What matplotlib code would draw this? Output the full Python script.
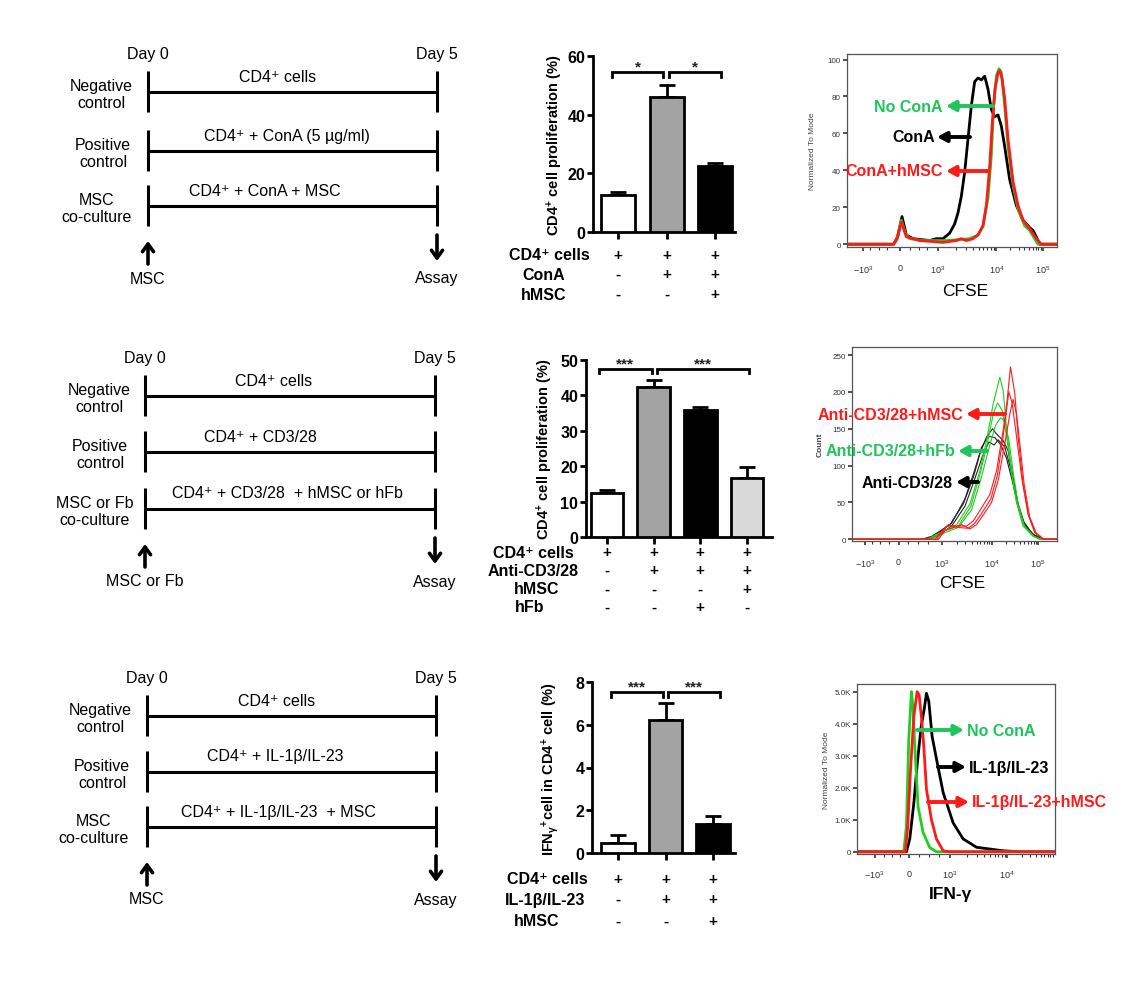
import matplotlib
matplotlib.use('Agg')
import matplotlib.pyplot as plt
from matplotlib.transforms import blended_transform_factory
import numpy as np

W, H = 1148, 987
plt.rcParams['font.family'] = ['Liberation Sans', 'DejaVu Sans']
plt.rcParams['mathtext.fontset'] = 'custom'
plt.rcParams['mathtext.rm'] = 'Liberation Sans'
plt.rcParams['mathtext.it'] = 'Liberation Sans:italic'
plt.rcParams['mathtext.bf'] = 'Liberation Sans:bold'
plt.rcParams['mathtext.default'] = 'regular'

# ------------------------------------------------------------------ data
# bar chart 1 (ConA)
bar1_vals = [12.5, 46.0, 22.5]
bar1_err = [1.0, 4.0, 1.0]
bar1_colors = ['white', '#a3a3a3', 'black']
bar1_rows = ['CD4⁺ cells', 'ConA', 'hMSC']
bar1_signs = [['+', '+', '+'], ['-', '+', '+'], ['-', '-', '+']]
bar1_stars = ['*', '*']

# bar chart 2 (anti-CD3/28)
bar2_vals = [12.5, 42.5, 36.0, 16.8]
bar2_err = [0.8, 1.8, 0.8, 3.0]
bar2_colors = ['white', '#a3a3a3', 'black', '#d9d9d9']
bar2_rows = ['CD4⁺ cells', 'Anti-CD3/28', 'hMSC', 'hFb']
bar2_signs = [['+', '+', '+', '+'], ['-', '+', '+', '+'],
              ['-', '-', '-', '+'], ['-', '-', '+', '-']]
bar2_stars = ['***', '***']

# bar chart 3 (IL-1b/IL-23)
bar3_vals = [0.45, 6.2, 1.38]
bar3_err = [0.37, 0.8, 0.37]
bar3_colors = ['white', '#a3a3a3', 'black']
bar3_rows = ['CD4⁺ cells', 'IL-1β/IL-23', 'hMSC']
bar3_signs = [['+', '+', '+'], ['-', '+', '+'], ['-', '-', '+']]
bar3_stars = ['***', '***']

# flow histogram 1: (channel, % of mode)
h1_noconA = [(0, 0), (140, 0), (150, 3), (163, 13), (175, 6), (188, 3), (230, 2), (300, 2),
             (368, 3), (393, 5), (408, 10), (423, 25), (433, 48), (440, 75), (448, 91),
             (456, 95), (463, 93), (473, 75), (483, 53), (498, 32), (513, 19), (533, 10),
             (548, 7.5), (563, 3), (573, 0), (630, 0)]
h1_conA = [(0, 0), (140, 0), (152, 4), (165, 15), (178, 5), (198, 3), (248, 2), (268, 3),
           (288, 3), (308, 6), (323, 11), (333, 17), (343, 26), (353, 39), (363, 57),
           (373, 75), (383, 88), (393, 90), (403, 89), (413, 91), (423, 84), (433, 73),
           (443, 69), (453, 70), (463, 64), (473, 53), (488, 35), (508, 21), (528, 13),
           (548, 9), (558, 7.5), (568, 4), (578, 0), (630, 0)]
h1_conA_msc = [(0, 0), (140, 0), (150, 3), (163, 12), (178, 4), (218, 2), (288, 1), (328, 2),
               (343, 3), (358, 2), (378, 3), (393, 5), (408, 10), (418, 21), (428, 42),
               (436, 66), (444, 84), (453, 93), (458, 94), (465, 90), (473, 79), (483, 57),
               (498, 34), (513, 21), (528, 13), (548, 8.5), (568, 3), (583, 0), (630, 0)]
h1_xticklabels = [r'$-10^3$', '0', r'$10^3$', r'$10^4$', r'$10^5$']
h1_yticks = [0, 20, 40, 60, 80, 100]

# flow histogram 2: (channel, count), three replicates each
h2_black = [
    [(0, 0), (210, 0), (240, 4), (295, 20), (335, 48), (365, 84), (385, 116), (405, 139),
     (423, 150), (435, 143), (455, 134), (470, 120), (485, 84), (500, 48), (520, 20),
     (545, 7), (575, 0), (617, 0)],
    [(0, 0), (215, 0), (250, 5), (300, 22), (340, 55), (370, 95), (390, 125), (410, 140),
     (430, 138), (448, 128), (465, 110), (482, 80), (500, 45), (520, 18), (550, 5),
     (580, 0), (617, 0)],
    [(0, 0), (220, 0), (255, 4), (300, 18), (340, 45), (368, 80), (392, 112), (412, 132),
     (428, 128), (440, 135), (460, 125), (478, 95), (495, 55), (515, 25), (545, 6),
     (578, 0), (617, 0)]]
h2_green = [
    [(0, 0), (225, 0), (275, 11), (315, 20), (355, 48), (385, 93), (405, 134), (425, 184),
     (445, 220), (455, 202), (465, 152), (480, 93), (495, 52), (515, 20), (545, 5),
     (565, 0), (617, 0)],
    [(0, 0), (230, 0), (280, 12), (320, 18), (358, 45), (385, 88), (405, 125), (425, 170),
     (438, 185), (452, 175), (465, 140), (480, 90), (495, 50), (515, 18), (545, 4),
     (565, 0), (617, 0)],
    [(0, 0), (235, 0), (285, 10), (320, 16), (360, 40), (390, 85), (410, 120), (432, 155),
     (448, 165), (460, 160), (472, 135), (486, 88), (500, 48), (520, 17), (548, 4),
     (570, 0), (617, 0)]]
h2_red = [
    [(0, 0), (250, 0), (265, 8), (285, 18), (315, 18), (345, 18), (365, 25), (385, 39),
     (415, 61), (435, 93), (455, 148), (467, 189), (477, 234), (490, 198), (500, 139),
     (515, 75), (530, 34), (550, 9), (575, 0), (617, 0)],
    [(0, 0), (255, 0), (272, 10), (290, 20), (320, 16), (350, 15), (370, 22), (390, 35),
     (418, 55), (438, 88), (455, 140), (465, 175), (472, 200), (482, 185), (495, 140),
     (512, 80), (530, 35), (550, 10), (575, 0), (617, 0)],
    [(0, 0), (260, 0), (280, 12), (300, 15), (330, 20), (355, 14), (375, 20), (395, 33),
     (420, 50), (440, 80), (460, 130), (475, 170), (485, 190), (495, 170), (505, 130),
     (518, 75), (535, 30), (555, 8), (578, 0), (617, 0)]]
h2_xticklabels = [r'$-10^3$', '0', r'$10^3$', r'$10^4$', r'$10^5$']
h2_yticks = [0, 50, 100, 150, 200, 250]

# flow histogram 3: (channel, normalized count)
h3_noconA = [(0, 0), (140, 0), (148, 800), (155, 3500), (163, 5000), (168, 4500),
             (173, 3300), (183, 1400), (198, 600), (218, 130), (238, 0), (593, 0)]
h3_il = [(0, 0), (148, 0), (158, 400), (170, 1500), (180, 2700), (192, 3900), (202, 4500),
         (208, 4950), (215, 4700), (225, 3600), (238, 2900), (258, 1850), (288, 900),
         (318, 400), (358, 140), (438, 30), (488, 0), (593, 0)]
h3_il_msc = [(0, 0), (145, 0), (152, 800), (160, 2500), (170, 4200), (180, 5000),
             (186, 4900), (193, 4200), (200, 3300), (208, 1950), (223, 1000), (238, 400),
             (258, 30), (275, 0), (593, 0)]
h3_xticklabels = [r'$-10^3$', '0', r'$10^3$', r'$10^4$']
h3_yticks = [0, 1000, 2000, 3000, 4000, 5000]
h3_yticklabels = ['0', '1.0K', '2.0K', '3.0K', '4.0K', '5.0K']

GREEN_LINE = '#22cc22'
GREEN_TEXT = '#1fc45a'
RED = '#ff1a1a'

# ------------------------------------------------------------------ figure
fig = plt.figure(figsize=(W / 100, H / 100), dpi=100)
ov = fig.add_axes([0, 0, 1, 1], zorder=10)
ov.set_xlim(0, W)
ov.set_ylim(H, 0)
ov.axis('off')


def px_axes(l, t, r, b):
    return fig.add_axes([l / W, 1 - b / H, (r - l) / W, (b - t) / H])


# ------------------------------------------------------------------ timelines
TL_FS = 11.5


def timeline(rows_y, xl, xr, line_texts, text_xs, row_labels, row_xs, start_label):
    ov.text(xl, rows_y[0] - 38, 'Day 0', ha='center', va='center', fontsize=TL_FS)
    ov.text(xr, rows_y[0] - 38, 'Day 5', ha='center', va='center', fontsize=TL_FS)
    for y, t, tx, rl, rx in zip(rows_y, line_texts, text_xs, row_labels, row_xs):
        for x in (xl, xr):
            ov.plot([x, x], [y - 21, y + 20], color='black', lw=2.2, solid_capstyle='butt')
        ov.plot([xl, xr], [y, y], color='black', lw=2.2, solid_capstyle='butt')
        ov.text(tx, y - 16, t, ha='center', va='center', fontsize=TL_FS)
        ov.text(rx, y + 2, rl, ha='center', va='center', fontsize=TL_FS, linespacing=1.2)
    yl = rows_y[-1]
    ov.annotate('', xy=(xl, yl + 35), xytext=(xl, yl + 58),
                arrowprops=dict(arrowstyle='->,head_length=0.55,head_width=0.4', lw=2.6,
                                color='black', shrinkA=0, shrinkB=0))
    ov.annotate('', xy=(xr, yl + 55), xytext=(xr, yl + 29),
                arrowprops=dict(arrowstyle='->,head_length=0.55,head_width=0.4', lw=2.6,
                                color='black', shrinkA=0, shrinkB=0))
    ov.text(xl, yl + 72, start_label, ha='center', va='center', fontsize=TL_FS)
    ov.text(xr, yl + 72, 'Assay', ha='center', va='center', fontsize=TL_FS)


timeline([93, 152, 207], 148, 437,
         ['CD4⁺ cells', 'CD4⁺ + ConA (5 µg/ml)', 'CD4⁺ + ConA + MSC'],
         [278, 287, 265],
         ['Negative\ncontrol', 'Positive\ncontrol', 'MSC\nco-culture'],
         [101, 103, 97], 'MSC')
timeline([397, 453, 510], 145, 435,
         ['CD4⁺ cells', 'CD4⁺ + CD3/28', 'CD4⁺ + CD3/28  + hMSC or hFb'],
         [274, 260, 287],
         ['Negative\ncontrol', 'Positive\ncontrol', 'MSC or Fb\nco-culture'],
         [99, 100, 95], 'MSC or Fb')
timeline([717, 773, 828], 147, 436,
         ['CD4⁺ cells', 'CD4⁺ + IL-1β/IL-23', 'CD4⁺ + IL-1β/IL-23  + MSC'],
         [277, 275, 278],
         ['Negative\ncontrol', 'Positive\ncontrol', 'MSC\nco-culture'],
         [100, 102, 94], 'MSC')


# ------------------------------------------------------------------ bar charts
def bar_panel(box, xlim, ylim, yticks, vals, errs, colors, ylabel, ylabel_x,
              brackets, stars, rows, row_xs, row_ys, signs):
    ax = px_axes(*box)
    n = len(vals)
    x = np.arange(n)
    ax.errorbar(x, vals, yerr=[np.zeros(n), errs], fmt='none', ecolor='black',
                elinewidth=2, capsize=6, capthick=2, zorder=2, clip_on=False)
    ax.bar(x, vals, width=0.7, color=colors, edgecolor='black', linewidth=2, zorder=3)
    ax.set_xlim(*xlim)
    ax.set_ylim(*ylim)
    ax.set_yticks(yticks)
    ax.set_xticks(x)
    ax.set_xticklabels([''] * n)
    for s in ('top', 'right'):
        ax.spines[s].set_visible(False)
    for s in ('left', 'bottom'):
        ax.spines[s].set_linewidth(2)
    ax.tick_params(axis='y', direction='out', length=4.5, width=2, labelsize=11.5, pad=1)
    ax.tick_params(axis='x', direction='out', length=5, width=2)
    for lab in ax.get_yticklabels():
        lab.set_fontweight('bold')
    ax.patch.set_alpha(0)
    # significance brackets
    for (x0, x1, ytop, ydrop), st in zip(brackets, stars):
        ax.plot([x0, x0, x1, x1], [ydrop, ytop, ytop, ydrop], color='black', lw=2,
                clip_on=False, solid_joinstyle='miter')
        ax.text((x0 + x1) / 2, ytop + (ylim[1] - ylim[0]) * 0.01, st, ha='center',
                va='baseline', fontsize=11, fontweight='bold', color='#222222')
    # y label
    top, bot = box[1], box[3]
    ov.text(ylabel_x, (top + bot) / 2, ylabel, rotation=90, ha='center', va='center',
            fontsize=10.5, fontweight='bold')
    # condition table
    tr = blended_transform_factory(ax.transData, ov.transData)
    for lab, lx, ly, sg in zip(rows, row_xs, row_ys, signs):
        ov.text(lx, ly, lab, ha='center', va='center', fontsize=11.5, fontweight='bold')
        for xi, s in zip(x, sg):
            ax.text(xi, ly, s, transform=tr, ha='center', va='center', fontsize=11,
                    fontweight='bold', clip_on=False)
    return ax


bar_panel((593, 57, 735, 233), (-0.515, 2.41), (0, 60), [0, 20, 40, 60],
          bar1_vals, bar1_err, bar1_colors, 'CD4$^{+}$ cell proliferation (%)', 555,
          [(-0.12, 0.93, 54.5, 52.8), (1.05, 2.13, 54.5, 52.8)], bar1_stars,
          bar1_rows, [549, 544, 544], [256, 275, 295], bar1_signs)
bar_panel((586, 361, 772, 538), (-0.45, 3.54), (0, 50), [0, 10, 20, 30, 40, 50],
          bar2_vals, bar2_err, bar2_colors, 'CD4$^{+}$ cell proliferation (%)', 545,
          [(-0.17, 0.96, 47.5, 46.4), (1.07, 3.04, 47.5, 46.4)], bar2_stars,
          bar2_rows, [533, 533, 537, 530], [553, 571, 590, 608], bar2_signs)
bar_panel((592, 683, 735, 854), (-0.547, 2.46), (0, 8), [0, 2, 4, 6, 8],
          bar3_vals, bar3_err, bar3_colors,
          r'IFN$_{\gamma}$$^{+}$cell in CD4$^{+}$ cell (%)', 550,
          [(-0.15, 0.95, 7.53, 7.3), (1.05, 2.15, 7.53, 7.3)], bar3_stars,
          bar3_rows, [547, 545, 537], [880, 900, 922], bar3_signs)


# ------------------------------------------------------------------ histograms
def hist_panel(box, xlim, ylim, xticks, xticklabels, minor, yticks, yticklabels,
               curves, ylabel, ylabel_x, ylabel_bold, xlabel, xlabel_xy, xlabel_bold):
    ax = px_axes(*box)
    for pts, color, lw in curves:
        arr = np.array(pts, dtype=float)
        ax.plot(arr[:, 0], arr[:, 1], color=color, lw=lw, solid_joinstyle='round')
    ax.set_xlim(*xlim)
    ax.set_ylim(*ylim)
    ax.set_xticks(xticks)
    ax.set_xticklabels(xticklabels)
    ax.set_xticks(minor, minor=True)
    ax.set_yticks(yticks)
    ax.set_yticklabels(yticklabels)
    for s in ax.spines.values():
        s.set_color('#555555')
        s.set_linewidth(0.9)
    ax.tick_params(axis='both', which='major', direction='out', length=3, width=1.2,
                   labelsize=5.8, colors='#333333', pad=1.5)
    ax.tick_params(axis='x', which='minor', direction='out', length=2, width=0.8,
                   colors='#333333')
    for lab in ax.get_xticklabels():
        lab.set_fontsize(6.5)
        lab.set_y(-0.05)
    ov.text(ylabel_x, (box[1] + box[3]) / 2, ylabel, rotation=90, ha='center', va='center',
            fontsize=6.0, color='#444444', fontweight='bold' if ylabel_bold else 'normal')
    ov.text(xlabel_xy[0], xlabel_xy[1], xlabel, ha='center', va='center', fontsize=12.5,
            fontweight='bold' if xlabel_bold else 'normal')
    return ax


def minor_ticks(anchors):
    # anchors: positions of 10^3, 10^4, (10^5)
    out = []
    for a0, a1 in zip(anchors[:-1], anchors[1:]):
        out += [a0 + (a1 - a0) * np.log10(k) for k in range(2, 10)]
    return out


hist_panel((847, 55, 1057, 248), (0, 630), (-1.5, 103), [48, 158, 273, 448, 588],
           h1_xticklabels, minor_ticks([273, 448, 588]) + [70, 95, 120, 190, 215, 240],
           h1_yticks, [str(v) for v in h1_yticks],
           [(h1_conA, 'black', 2.0), (h1_noconA, GREEN_LINE, 2.0), (h1_conA_msc, RED, 2.0)],
           'Normalized To Mode', 813, False, 'CFSE', (965, 292), False)

curves2 = [(c, '#222222', 0.8) for c in h2_black] + \
          [(c, GREEN_LINE, 0.8) for c in h2_green] + \
          [(c, RED, 0.8) for c in h2_red]
hist_panel((852, 348, 1057, 542), (0, 617), (-2.3, 261), [40, 140, 270, 420, 560],
           h2_xticklabels, minor_ticks([270, 420, 560]) + [60, 85, 110, 170, 200, 230],
           h2_yticks, [str(v) for v in h2_yticks], curves2,
           'Count', 820, True, 'CFSE', (962, 583), False)

hist_panel((857, 685, 1055, 855), (0, 593), (-70, 5240), [53, 156, 278, 450],
           h3_xticklabels, minor_ticks([278, 450, 593]) + [80, 105, 130, 185, 215, 245],
           h3_yticks, h3_yticklabels,
           [(h3_il, 'black', 2.0), (h3_noconA, GREEN_LINE, 2.0), (h3_il_msc, RED, 2.0)],
           'Normalized To Mode', 826, False, 'IFN-γ', (950, 895), True)


# ------------------------------------------------------------------ labelled arrows
def arrow_label(text, color, tx, ty, ha, tail, head):
    ov.text(tx, ty, text, ha=ha, va='center', fontsize=11.5, fontweight='bold', color=color)
    ov.annotate('', xy=(head, ty), xytext=(tail, ty),
                arrowprops=dict(arrowstyle='-|>,head_length=0.55,head_width=0.3', lw=2.8,
                                color=color, shrinkA=0, shrinkB=0))


arrow_label('No ConA', GREEN_TEXT, 943, 107, 'right', 993, 946)
arrow_label('ConA', 'black', 935, 138, 'right', 970, 937)
arrow_label('ConA+hMSC', RED, 943, 172, 'right', 988, 946)

arrow_label('Anti-CD3/28+hMSC', RED, 963, 415, 'right', 1005, 966)
arrow_label('Anti-CD3/28+hFb', GREEN_TEXT, 955, 452, 'right', 987, 958)
arrow_label('Anti-CD3/28', 'black', 953, 483, 'right', 978, 956)

arrow_label('No ConA', GREEN_TEXT, 967, 731, 'left', 917, 964)
arrow_label('IL-1β/IL-23', 'black', 969, 768, 'left', 938, 966)
arrow_label('IL-1β/IL-23+hMSC', RED, 972, 803, 'left', 928, 969)

fig.savefig('out.png', dpi=100)
